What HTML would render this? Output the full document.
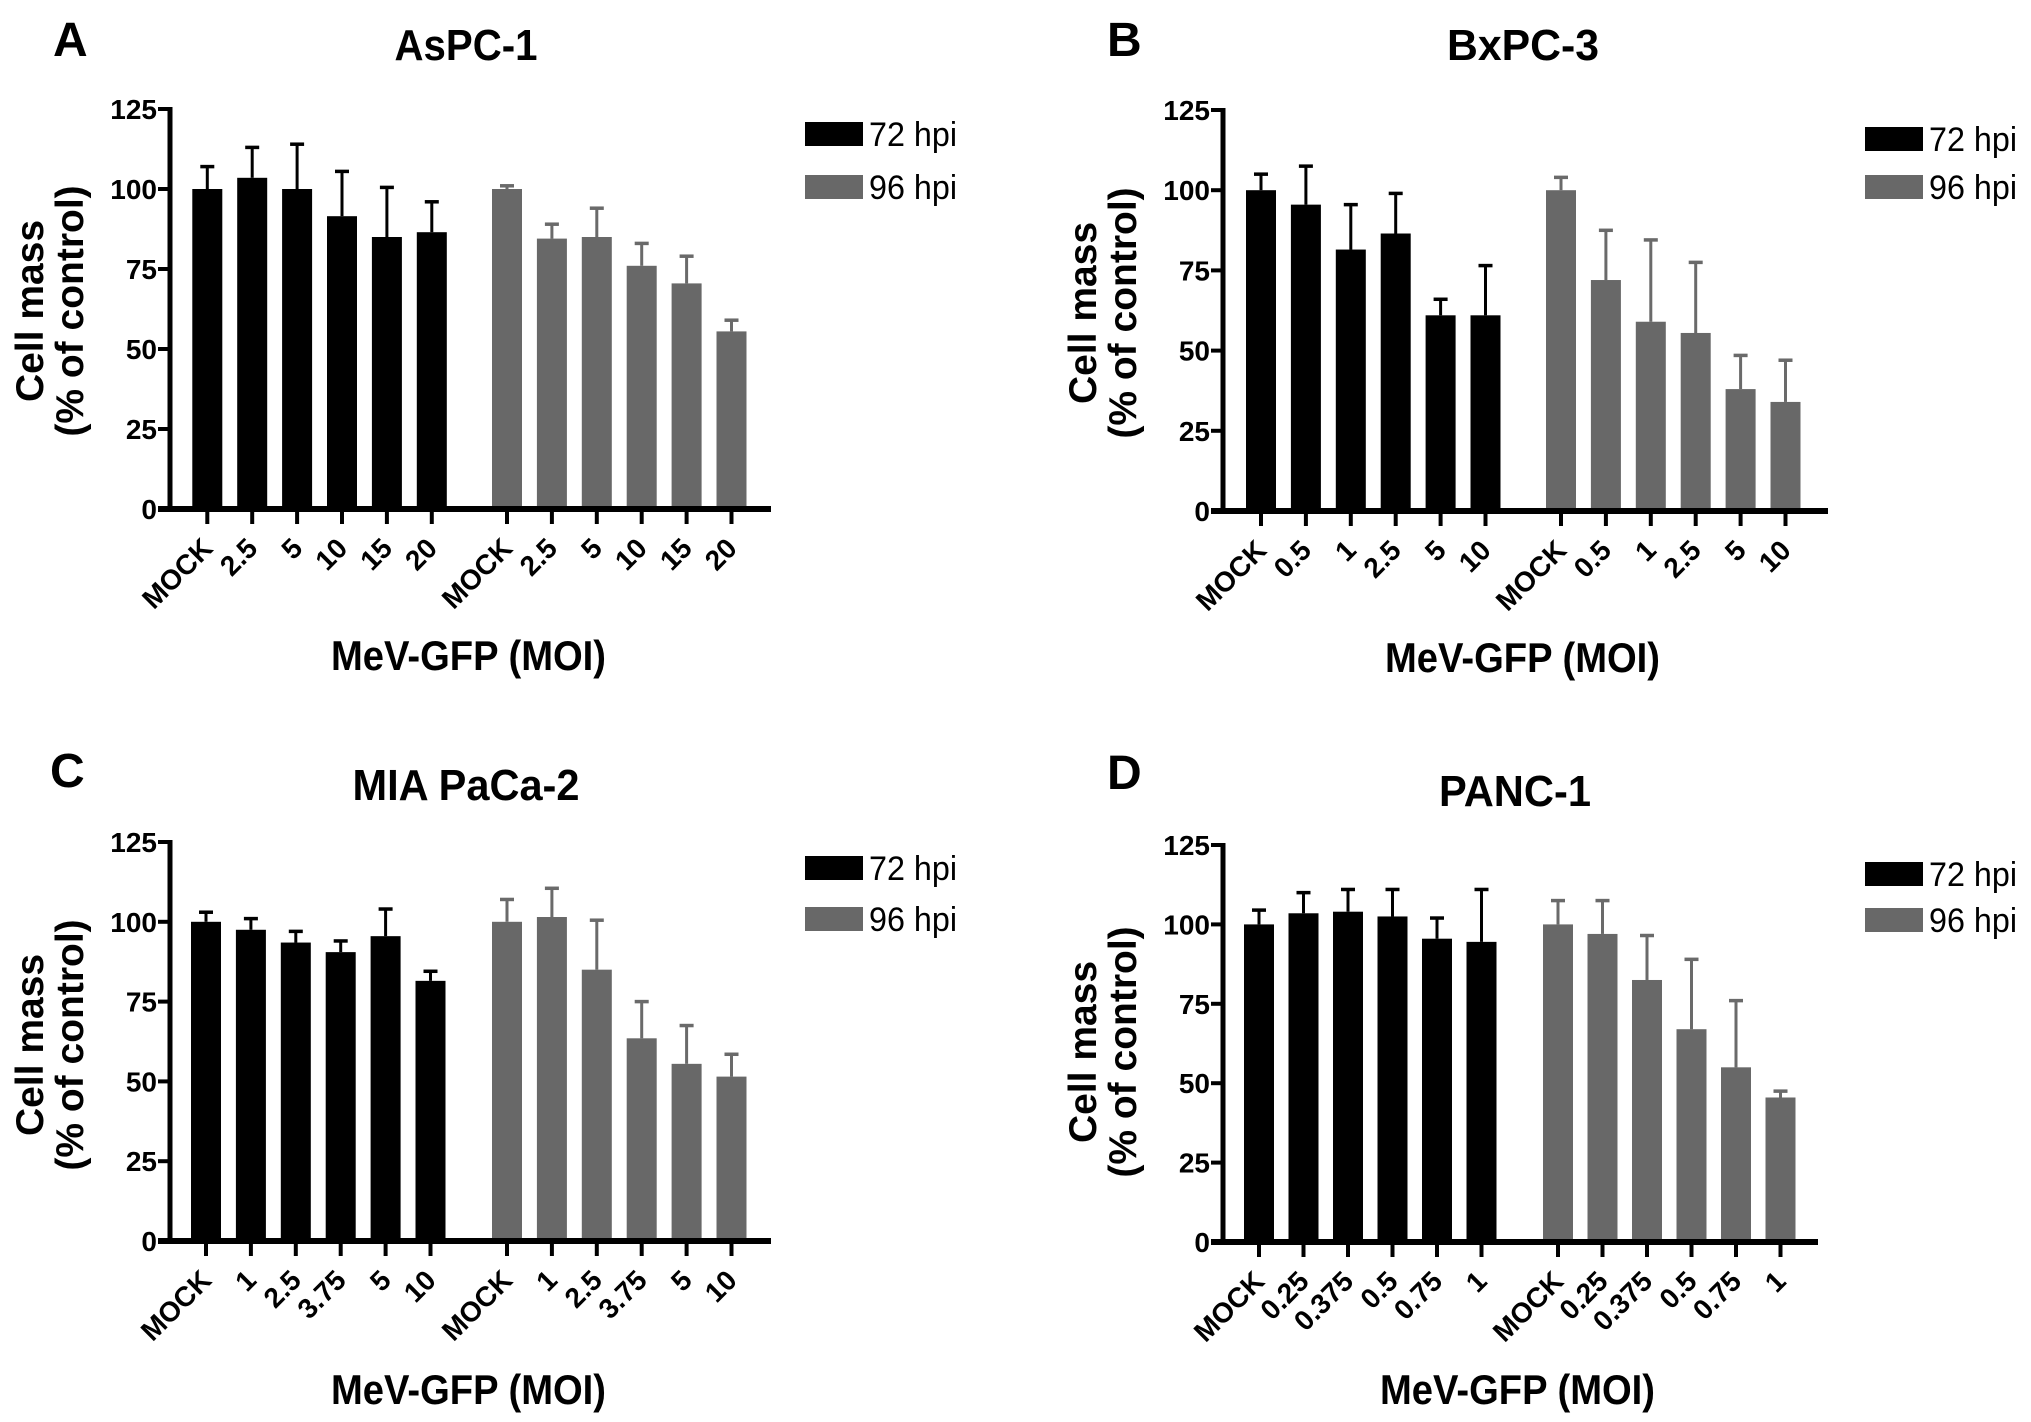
<!DOCTYPE html>
<html><head><meta charset="utf-8"><style>
html,body{margin:0;padding:0;background:#fff;}
svg{display:block;font-family:"Liberation Sans",Arial,sans-serif;}
</style></head><body>
<svg id="fig" width="2031" height="1422" viewBox="0 0 2031 1422" xmlns="http://www.w3.org/2000/svg"></svg>
<script>
// ---- data ----
const yTicks = [0, 25, 50, 75, 100, 125];
const seriesNames = ["72 hpi", "96 hpi"];
const catsA = ["MOCK", "2.5", "5", "10", "15", "20"];
const a72 = [100, 103.5, 100, 91.5, 85, 86.5];
const a72err = [107, 113, 114, 105.5, 100.5, 96];
const a96 = [100, 84.5, 85, 76, 70.5, 55.5];
const a96err = [101, 89, 94, 83, 79, 59];
const catsB = ["MOCK", "0.5", "1", "2.5", "5", "10"];
const b72 = [100, 95.5, 81.5, 86.5, 61, 61];
const b72err = [105, 107.5, 95.5, 99, 66, 76.5];
const b96 = [100, 72, 59, 55.5, 38, 34];
const b96err = [104, 87.5, 84.5, 77.5, 48.5, 47];
const catsC = ["MOCK", "1", "2.5", "3.75", "5", "10"];
const c72 = [100, 97.5, 93.5, 90.5, 95.5, 81.5];
const c72err = [103, 101, 97, 94, 104, 84.5];
const c96 = [100, 101.5, 85, 63.5, 55.5, 51.5];
const c96err = [107, 110.5, 100.5, 75, 67.5, 58.5];
const catsD = ["MOCK", "0.25", "0.375", "0.5", "0.75", "1"];
const d72 = [100, 103.5, 104, 102.5, 95.5, 94.5];
const d72err = [104.5, 110, 111, 111, 102, 111];
const d96 = [100, 97, 82.5, 67, 55, 45.5];
const d96err = [107.5, 107.5, 96.5, 89, 76, 47.5];

const NS = "http://www.w3.org/2000/svg";
const svg = document.getElementById("fig");
function mk(tag, attrs, parent) {
  const e = document.createElementNS(NS, tag);
  for (const k in attrs) e.setAttribute(k, attrs[k]);
  (parent || svg).appendChild(e);
  return e;
}

function panel(p) {
  const g = mk("g", {});
  
  
  const yScale = v => p.y0 - (v / 125) * (p.y0 - p.y125);
  const xPos = (grp, i) => (grp === 0 ? p.g1 : p.g2) + i * p.step;
  const colors = ["#000", "#686868"];
  const errColors = ["#000", "#6a6a6a"];

  let t = mk("text", {x: p.lx, y: p.ly, "font-size": 48, "font-weight": "bold"}, g);
  t.textContent = p.letter;
  
  
  t = mk("text", {x: p.tx - p.tw / 2, y: p.ty, "font-size": 44, "font-weight": "bold", textLength: p.tw, lengthAdjust: "spacingAndGlyphs"}, g);
  t.textContent = p.title;
  
  

  // bars
  [p.s72, p.s96].forEach((s, grp) => {
    s[0].forEach((v, i) => {
      const cx = xPos(grp, i);
      const top = yScale(v);
      const r = mk("rect", {x: cx - 15, y: top, width: 30, height: p.y0 - top, fill: colors[grp]}, g);
      
      
      const ey = yScale(s[1][i]);
      const l = mk("line", {x1: cx, x2: cx, y1: top, y2: ey, stroke: errColors[grp], "stroke-width": 3}, g);
      
      
      const c = mk("line", {x1: cx - 7, x2: cx + 7, y1: ey, y2: ey, stroke: errColors[grp], "stroke-width": 3.5}, g);
      
      
    });
  });

  // axes
  let ax = mk("line", {x1: p.ax, x2: p.ax, y1: p.y125 - 2, y2: p.y0 + 3, stroke: "#000", "stroke-width": 5}, g);
  
  
  ax = mk("line", {x1: p.ax - 12, x2: p.axEnd, y1: p.y0, y2: p.y0, stroke: "#000", "stroke-width": 6}, g);
  
  
  yTicks.forEach(v => {
    const y = yScale(v);
    const tk = mk("line", {x1: p.ax - 12, x2: p.ax, y1: y, y2: y, stroke: "#000", "stroke-width": 4}, g);
    
    
    const tl = mk("text", {x: p.ax - 13, y: y + 10, "font-size": 28, "font-weight": "bold", "text-anchor": "end"}, g);
    tl.textContent = v;
    
    
  });
  [0, 1].forEach(grp => {
    p.cats.forEach((c, i) => {
      const cx = xPos(grp, i);
      const tk = mk("line", {x1: cx, x2: cx, y1: p.y0, y2: p.y0 + 15, stroke: "#000", "stroke-width": 4}, g);
      
      
      const ax2 = cx + 7, ay2 = p.y0 + 41;
      const tl = mk("text", {x: ax2, y: ay2, "font-size": 28, "font-weight": "bold", "text-anchor": "end", transform: "rotate(-45 " + ax2 + " " + ay2 + ")"}, g);
      tl.textContent = c;
      
      
    });
  });

  // axis titles
  t = mk("text", {x: 0, y: 0, "font-size": 39, "font-weight": "bold", "text-anchor": "middle", transform: "translate(" + p.yt1 + "," + p.ytc + ") rotate(-90)"}, g);
  t.textContent = "Cell mass";
  
  
  t = mk("text", {x: 0, y: 0, "font-size": 39, "font-weight": "bold", "text-anchor": "middle", transform: "translate(" + (p.yt1 + 40) + "," + p.ytc + ") rotate(-90)"}, g);
  t.textContent = "(% of control)";
  
  
  t = mk("text", {x: p.xtx - 137, y: p.xty, "font-size": 42, "font-weight": "bold", textLength: 275, lengthAdjust: "spacingAndGlyphs"}, g);
  t.textContent = "MeV-GFP (MOI)";
  
  

  // legend
  seriesNames.forEach((n, k) => {
    const y = k === 0 ? p.leg1 : p.leg2;
    const r = mk("rect", {x: p.legx, y: y, width: 58, height: 24, fill: colors[k]}, g);
    
    
    const lt = mk("text", {x: p.legx + 64, y: y + 24, "font-size": 34, textLength: 88, lengthAdjust: "spacingAndGlyphs"}, g);
    lt.textContent = n;
    
    
  });
}

panel({letter: "A", title: "AsPC-1", tw: 143, lx: 53, ly: 56, tx: 466, ty: 60,
  ax: 170, axEnd: 771, y0: 509, y125: 109, g1: 207.3, g2: 507, step: 44.9,
  cats: catsA, s72: [a72, a72err], s96: [a96, a96err],
  yt1: 43, ytc: 311, xtx: 468, xty: 670, legx: 805, leg1: 122, leg2: 175});
panel({letter: "B", title: "BxPC-3", tw: 152, lx: 1107, ly: 56, tx: 1523, ty: 60,
  ax: 1223, axEnd: 1828, y0: 511, y125: 110, g1: 1261, g2: 1561, step: 44.9,
  cats: catsB, s72: [b72, b72err], s96: [b96, b96err],
  yt1: 1096, ytc: 313, xtx: 1522, xty: 672, legx: 1865, leg1: 127, leg2: 175});
panel({letter: "C", title: "MIA PaCa-2", tw: 227, lx: 50, ly: 787, tx: 466, ty: 800,
  ax: 170, axEnd: 771, y0: 1241, y125: 842, g1: 206, g2: 507, step: 44.9,
  cats: catsC, s72: [c72, c72err], s96: [c96, c96err],
  yt1: 43, ytc: 1045, xtx: 468, xty: 1404, legx: 805, leg1: 856, leg2: 907});
panel({letter: "D", title: "PANC-1", tw: 152, lx: 1107, ly: 789, tx: 1515, ty: 806,
  ax: 1223, axEnd: 1818, y0: 1242, y125: 845, g1: 1259, g2: 1558, step: 44.5,
  cats: catsD, s72: [d72, d72err], s96: [d96, d96err],
  yt1: 1096, ytc: 1052, xtx: 1517, xty: 1404, legx: 1865, leg1: 862, leg2: 908});
</script>
</body></html>
